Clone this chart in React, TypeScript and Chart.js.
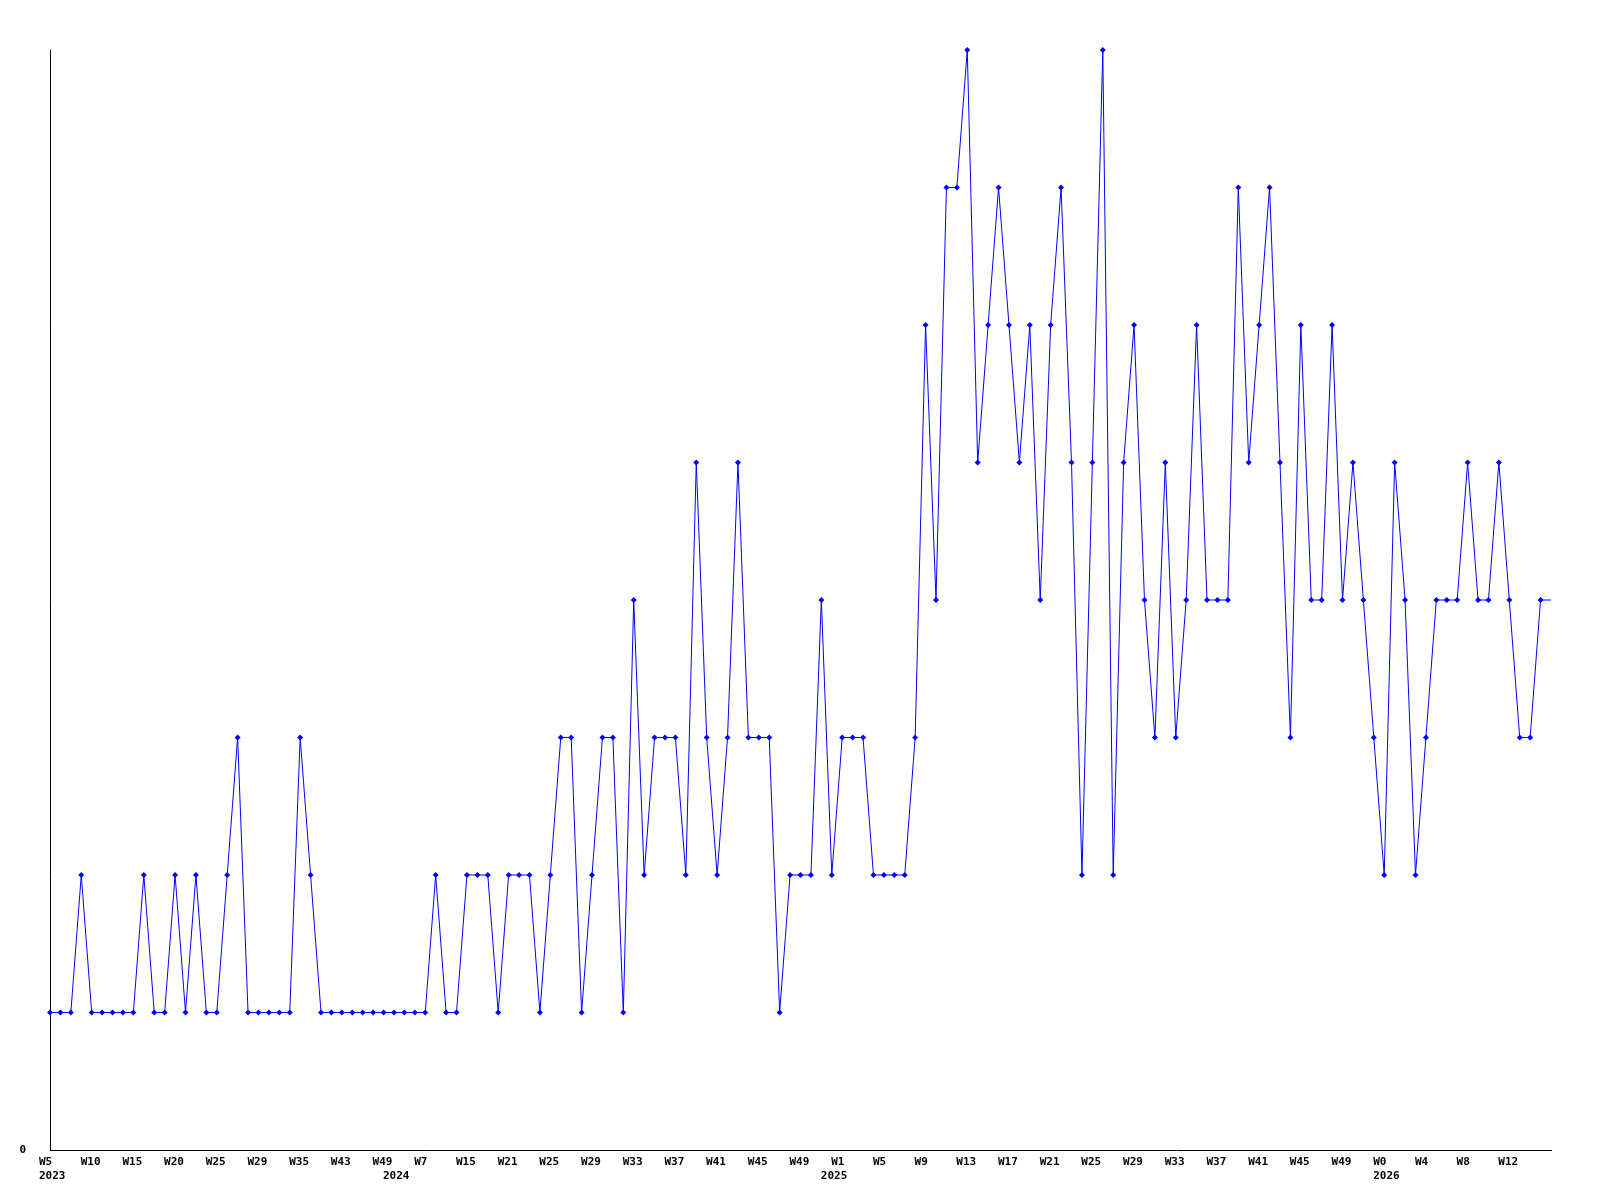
import React, { useEffect, useRef } from "react";
import { Chart, registerables } from "chart.js";

Chart.register(...registerables);

// Weekly values (one per week shown on the axis, oldest first)
const values: number[] = [
  1, 1, 1, 2, 1, 1, 1, 1, 1, 2,
  1, 1, 2, 1, 2, 1, 1, 2, 3, 1,
  1, 1, 1, 1, 3, 2, 1, 1, 1, 1,
  1, 1, 1, 1, 1, 1, 1, 2, 1, 1,
  2, 2, 2, 1, 2, 2, 2, 1, 2, 3,
  3, 1, 2, 3, 3, 1, 4, 2, 3, 3,
  3, 2, 5, 3, 2, 3, 5, 3, 3, 3,
  1, 2, 2, 2, 4, 2, 3, 3, 3, 2,
  2, 2, 2, 3, 6, 4, 7, 7, 8, 5,
  6, 7, 6, 5, 6, 4, 6, 7, 5, 2,
  5, 8, 2, 5, 6, 4, 3, 5, 3, 4,
  6, 4, 4, 4, 7, 5, 6, 7, 5, 3,
  6, 4, 4, 6, 4, 5, 4, 3, 2, 5,
  4, 2, 3, 4, 4, 4, 5, 4, 4, 5,
  4, 3, 3, 4, 4,
];

// Week tick labels, one every 4 data points
const weekTicks: string[] = [
  "W5", "W10", "W15", "W20", "W25", "W29", "W35", "W43", "W49",
  "W7", "W15", "W21", "W25", "W29", "W33", "W37", "W41", "W45", "W49",
  "W1", "W5", "W9", "W13", "W17", "W21", "W25", "W29", "W33", "W37", "W41", "W45", "W49",
  "W0", "W4", "W8", "W12",
];
const tickEvery = 4;

// Year labels and the data index where each year starts
const yearLabels: string[] = ["2023", "2024", "2025", "2026"];
const yearStartIndex: number[] = [0, 33, 75, 128];

const categories: string[] = values.map((_, i) =>
  i % tickEvery === 0 && weekTicks[i / tickEvery] ? weekTicks[i / tickEvery] : ""
);

const FONT_FAMILY = '"DejaVu Sans Mono", "Liberation Mono", monospace';

export default function App() {
  const ref = useRef<HTMLCanvasElement | null>(null);

  useEffect(() => {
    if (!ref.current) return;
    const chart = new Chart(ref.current, {
      type: "line",
      data: {
        labels: categories,
        datasets: [
          {
            data: values,
            borderColor: "#0000ff",
            backgroundColor: "#0000ff",
            borderWidth: 1,
            pointStyle: "rectRot",
            pointRadius: values.map((_, i) => (i === values.length - 1 ? 0 : 3)),
            pointBackgroundColor: "#0000ff",
            pointBorderColor: "#0000ff",
            pointBorderWidth: 0,
            tension: 0,
            fill: false,
            clip: false,
          },
        ],
      },
      options: {
        responsive: false,
        animation: false,
        devicePixelRatio: 1,
        layout: { padding: { top: 50, right: 49, left: 0, bottom: 0 } },
        plugins: { legend: { display: false }, tooltip: { enabled: false }, title: { display: false } },
        scales: {
          x: {
            type: "category",
            offset: false,
            grid: { display: false, drawTicks: false },
            border: { display: true, color: "#000000", width: 1 },
            ticks: {
              autoSkip: false,
              maxRotation: 0,
              minRotation: 0,
              align: "start",
              labelOffset: -11,
              padding: 5,
              color: "#000000",
              font: { family: FONT_FAMILY, size: 11, weight: "bold", lineHeight: 1.3 },
              callback: (_v: any, index: number) => {
                const w = categories[index] || "";
                const yi = yearStartIndex.indexOf(index);
                if (yi >= 0) return [w, yearLabels[yi]];
                return w;
              },
            },
            afterFit: (scale: any) => {
              scale.height = 50;
            },
          },
          y: {
            min: 0,
            max: 8,
            grid: { display: false, drawTicks: false },
            border: { display: true, color: "#000000", width: 1 },
            ticks: {
              stepSize: 1,
              padding: 24,
              color: "#000000",
              font: { family: FONT_FAMILY, size: 11, weight: "bold" },
              callback: (v: any) => (Number(v) === 0 ? "0" : ""),
            },
            afterFit: (scale: any) => {
              scale.width = 50;
            },
          },
        },
      },
    });
    return () => chart.destroy();
  }, []);

  return (
    <div style={{ position: "absolute", left: 0, top: 0, width: 1600, height: 1200, background: "#ffffff" }}>
      <canvas ref={ref} width={1600} height={1200} style={{ display: "block" }} />
    </div>
  );
}
